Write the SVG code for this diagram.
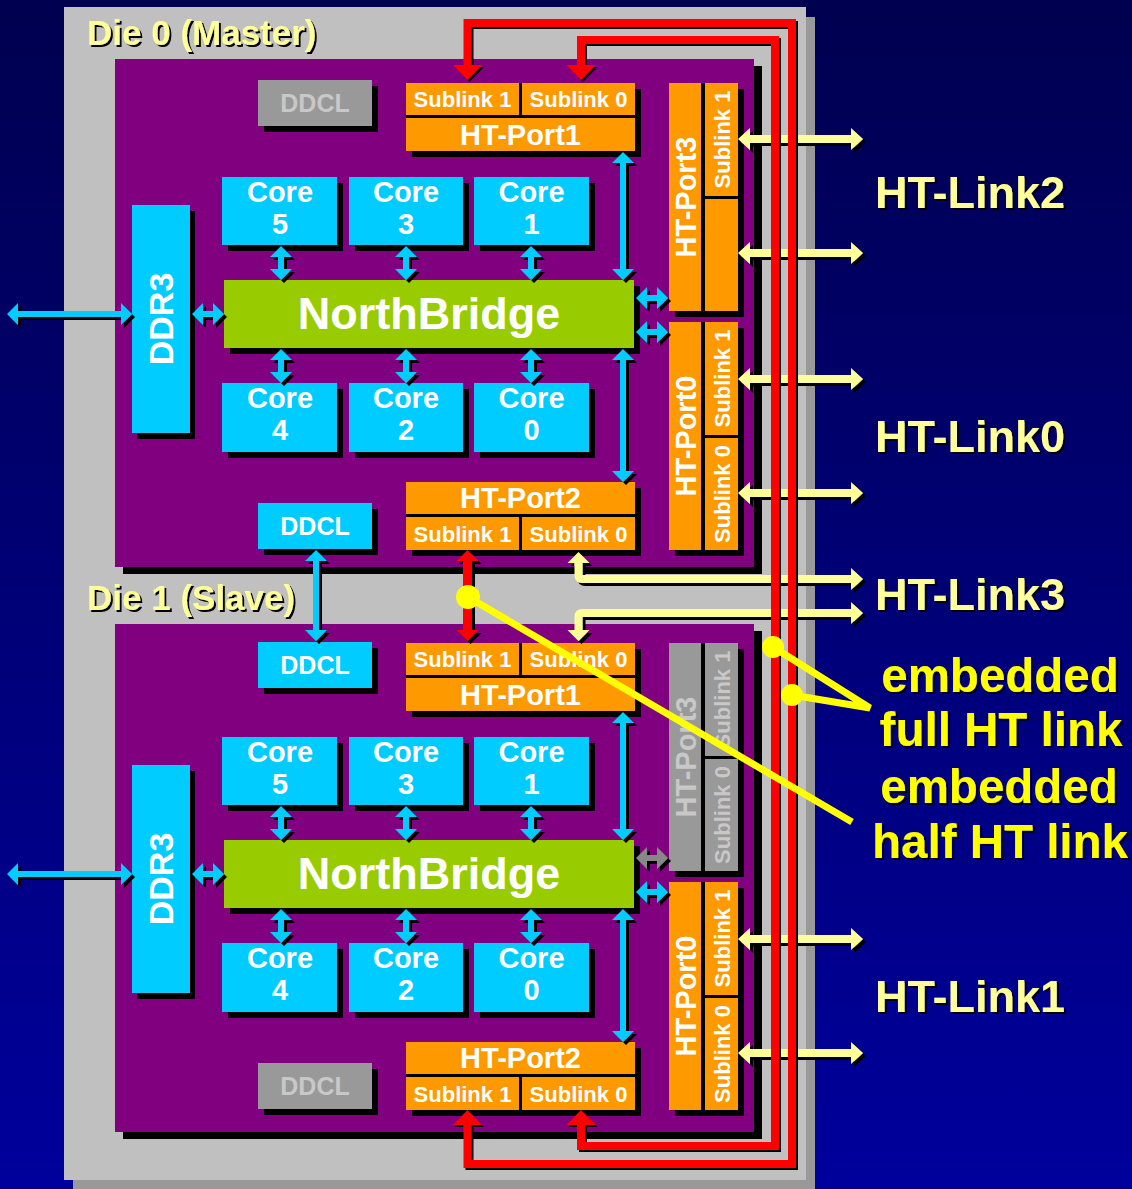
<svg xmlns="http://www.w3.org/2000/svg" width="1132" height="1189" viewBox="0 0 1132 1189">
<defs>
<linearGradient id="bg" x1="0" y1="0" x2="0" y2="1"><stop offset="0" stop-color="#000050"/><stop offset="1" stop-color="#00009c"/></linearGradient>
<filter id="s3" filterUnits="userSpaceOnUse" x="0" y="0" width="1132" height="1189"><feOffset in="SourceAlpha" dx="3" dy="3" result="o"/><feMerge><feMergeNode in="o"/><feMergeNode in="SourceGraphic"/></feMerge></filter>
<filter id="s2" filterUnits="userSpaceOnUse" x="0" y="0" width="1132" height="1189"><feOffset in="SourceAlpha" dx="2" dy="2" result="o"/><feMerge><feMergeNode in="o"/><feMergeNode in="SourceGraphic"/></feMerge></filter>
</defs>
<style>
.tx{font-family:"Liberation Sans",Arial,Helvetica,sans-serif;font-weight:bold;text-anchor:middle}
.w{fill:#fff}
.lg{fill:#c8c8c8}
.sl{font-size:22px}
.pt{font-size:29px}
.co{font-size:29px}
.dd{font-size:25px}
.nb{font-size:45px}
.dr{font-size:34px}
.ttl{font-family:"Liberation Sans",Arial,Helvetica,sans-serif;font-weight:bold;font-size:35px;fill:#ffff99}
.lnk{font-family:"Liberation Sans",Arial,Helvetica,sans-serif;font-weight:bold;font-size:45px;fill:#ffff99}
.emb{font-family:"Liberation Sans",Arial,Helvetica,sans-serif;font-weight:bold;font-size:47.5px;fill:#ffff00;text-anchor:middle}
.cy{fill:#00ccff}
.or{fill:#ff9900}
.gr{fill:#999999}
.bk{fill:#000}
.pu{fill:#800080}
.gn{fill:#99cc00}
.ye{fill:#ffff99}
.red{fill:none;stroke:#ff0000;stroke-width:8}
.rf{fill:#ff0000}
.co-ln{fill:none;stroke:#ffff00;stroke-width:7}
</style>
<rect x="0" y="0" width="1132" height="1189" fill="url(#bg)"/>
<g id="package">
<rect x="73" y="17" width="742" height="1172" fill="#999999"/>
<rect x="64" y="7" width="742" height="1173" fill="#c0c0c0"/>
</g>

<g id="die0">
<rect x="123" y="66" width="639" height="508" class="bk"/>
<rect x="115" y="59" width="639" height="508" class="pu"/>
<text x="87" y="45" class="ttl" filter="url(#s2)">Die 0 (Master)</text>
</g>
<g id="die1">
<rect x="123" y="631" width="639" height="508" class="bk"/>
<rect x="115" y="624" width="639" height="508" class="pu"/>
<text x="87" y="610" class="ttl" filter="url(#s2)">Die 1 (Slave)</text>
</g>

<!-- Die 0 nodes -->
<g id="d0-ddcl-gray"><rect x="264" y="86" width="114" height="46" class="bk"/><rect x="258" y="80" width="114" height="46" class="gr"/><text x="315" y="112" class="tx dd lg">DDCL</text></g>
<g id="d0-ddr3"><rect x="137" y="211" width="58" height="228" class="bk"/><rect x="132" y="205" width="58" height="228" class="cy"/><text transform="translate(173,319) rotate(-90)" class="tx dr w">DDR3</text></g>
<g id="d0-core5"><rect x="228" y="183" width="115" height="68" class="bk"/><rect x="222" y="177" width="115" height="68" class="cy"/><text x="280" y="202" class="tx co w">Core</text><text x="280" y="234" class="tx co w">5</text></g>
<g id="d0-core3"><rect x="355" y="183" width="114" height="68" class="bk"/><rect x="349" y="177" width="114" height="68" class="cy"/><text x="406" y="202" class="tx co w">Core</text><text x="406" y="234" class="tx co w">3</text></g>
<g id="d0-core1"><rect x="480" y="183" width="115" height="68" class="bk"/><rect x="474" y="177" width="115" height="68" class="cy"/><text x="531.5" y="202" class="tx co w">Core</text><text x="531.5" y="234" class="tx co w">1</text></g>
<g id="d0-core4"><rect x="228" y="389" width="115" height="69" class="bk"/><rect x="222" y="383" width="115" height="69" class="cy"/><text x="280" y="408" class="tx co w">Core</text><text x="280" y="440" class="tx co w">4</text></g>
<g id="d0-core2"><rect x="355" y="389" width="114" height="69" class="bk"/><rect x="349" y="383" width="114" height="69" class="cy"/><text x="406" y="408" class="tx co w">Core</text><text x="406" y="440" class="tx co w">2</text></g>
<g id="d0-core0"><rect x="480" y="389" width="115" height="69" class="bk"/><rect x="474" y="383" width="115" height="69" class="cy"/><text x="531.5" y="408" class="tx co w">Core</text><text x="531.5" y="440" class="tx co w">0</text></g>
<g id="d0-nb"><rect x="230" y="286" width="410" height="68" class="bk"/><rect x="224" y="280" width="410" height="68" class="gn"/><text x="429" y="329" class="tx nb w">NorthBridge</text></g>
<g id="d0-htport1"><rect x="406" y="83" width="229" height="68" class="bk"/><rect x="412" y="89" width="229" height="68" class="bk"/>
<rect x="406" y="83" width="113" height="32" class="or"/><rect x="522" y="83" width="113" height="32" class="or"/><rect x="406" y="118" width="229" height="33" class="or"/>
<text x="462.5" y="107" class="tx sl w">Sublink 1</text><text x="578.5" y="107" class="tx sl w">Sublink 0</text><text x="520.5" y="145" class="tx pt w">HT-Port1</text></g>
<g id="d0-htport2"><rect x="406" y="482" width="229" height="68" class="bk"/><rect x="412" y="488" width="229" height="68" class="bk"/>
<rect x="406" y="482" width="229" height="32" class="or"/><rect x="406" y="517" width="113" height="33" class="or"/><rect x="522" y="517" width="113" height="33" class="or"/>
<text x="520.5" y="508" class="tx pt w">HT-Port2</text><text x="462.5" y="541.5" class="tx sl w">Sublink 1</text><text x="578.5" y="541.5" class="tx sl w">Sublink 0</text></g>
<g id="d0-htport3"><rect x="669" y="83" width="69" height="228" class="bk"/><rect x="675" y="89" width="69" height="228" class="bk"/>
<rect x="669" y="83" width="32" height="228" class="or"/><rect x="705" y="83" width="33" height="113" class="or"/><rect x="705" y="199" width="33" height="112" class="or"/>
<text transform="translate(695.5,197) rotate(-90)" class="tx pt w">HT-Port3</text><text transform="translate(729.5,139.5) rotate(-90)" class="tx sl w">Sublink 1</text></g>
<g id="d0-htport0"><rect x="669" y="322" width="69" height="228" class="bk"/><rect x="675" y="328" width="69" height="228" class="bk"/>
<rect x="669" y="322" width="32" height="228" class="or"/><rect x="705" y="322" width="33" height="113" class="or"/><rect x="705" y="438" width="33" height="112" class="or"/>
<text transform="translate(695.5,436) rotate(-90)" class="tx pt w">HT-Port0</text><text transform="translate(729.5,378.5) rotate(-90)" class="tx sl w">Sublink 1</text><text transform="translate(729.5,494) rotate(-90)" class="tx sl w">Sublink 0</text></g>
<g id="d0-ddcl"><rect x="264" y="509" width="114" height="46" class="bk"/><rect x="258" y="503" width="114" height="46" class="cy"/><text x="315" y="535" class="tx dd w">DDCL</text></g>

<!-- Die 1 nodes -->
<g id="d1-ddcl"><rect x="264" y="648" width="114" height="46" class="bk"/><rect x="258" y="642" width="114" height="46" class="cy"/><text x="315" y="674" class="tx dd w">DDCL</text></g>
<g id="d1-ddr3"><rect x="137" y="771" width="58" height="228" class="bk"/><rect x="132" y="765" width="58" height="228" class="cy"/><text transform="translate(173,879) rotate(-90)" class="tx dr w">DDR3</text></g>
<g id="d1-core5"><rect x="228" y="743" width="115" height="68" class="bk"/><rect x="222" y="737" width="115" height="68" class="cy"/><text x="280" y="762" class="tx co w">Core</text><text x="280" y="794" class="tx co w">5</text></g>
<g id="d1-core3"><rect x="355" y="743" width="114" height="68" class="bk"/><rect x="349" y="737" width="114" height="68" class="cy"/><text x="406" y="762" class="tx co w">Core</text><text x="406" y="794" class="tx co w">3</text></g>
<g id="d1-core1"><rect x="480" y="743" width="115" height="68" class="bk"/><rect x="474" y="737" width="115" height="68" class="cy"/><text x="531.5" y="762" class="tx co w">Core</text><text x="531.5" y="794" class="tx co w">1</text></g>
<g id="d1-core4"><rect x="228" y="949" width="115" height="69" class="bk"/><rect x="222" y="943" width="115" height="69" class="cy"/><text x="280" y="968" class="tx co w">Core</text><text x="280" y="1000" class="tx co w">4</text></g>
<g id="d1-core2"><rect x="355" y="949" width="114" height="69" class="bk"/><rect x="349" y="943" width="114" height="69" class="cy"/><text x="406" y="968" class="tx co w">Core</text><text x="406" y="1000" class="tx co w">2</text></g>
<g id="d1-core0"><rect x="480" y="949" width="115" height="69" class="bk"/><rect x="474" y="943" width="115" height="69" class="cy"/><text x="531.5" y="968" class="tx co w">Core</text><text x="531.5" y="1000" class="tx co w">0</text></g>
<g id="d1-nb"><rect x="230" y="846" width="410" height="68" class="bk"/><rect x="224" y="840" width="410" height="68" class="gn"/><text x="429" y="889" class="tx nb w">NorthBridge</text></g>
<g id="d1-htport1"><rect x="406" y="643" width="229" height="68" class="bk"/><rect x="412" y="649" width="229" height="68" class="bk"/>
<rect x="406" y="643" width="113" height="32" class="or"/><rect x="522" y="643" width="113" height="32" class="or"/><rect x="406" y="678" width="229" height="33" class="or"/>
<text x="462.5" y="667" class="tx sl w">Sublink 1</text><text x="578.5" y="667" class="tx sl w">Sublink 0</text><text x="520.5" y="705" class="tx pt w">HT-Port1</text></g>
<g id="d1-htport2"><rect x="406" y="1042" width="229" height="68" class="bk"/><rect x="412" y="1048" width="229" height="68" class="bk"/>
<rect x="406" y="1042" width="229" height="32" class="or"/><rect x="406" y="1077" width="113" height="33" class="or"/><rect x="522" y="1077" width="113" height="33" class="or"/>
<text x="520.5" y="1068" class="tx pt w">HT-Port2</text><text x="462.5" y="1101.5" class="tx sl w">Sublink 1</text><text x="578.5" y="1101.5" class="tx sl w">Sublink 0</text></g>
<g id="d1-htport3"><rect x="669" y="643" width="69" height="228" class="bk"/><rect x="675" y="649" width="69" height="228" class="bk"/>
<rect x="669" y="643" width="32" height="228" class="gr"/><rect x="705" y="643" width="33" height="113" class="gr"/><rect x="705" y="759" width="33" height="112" class="gr"/>
<text transform="translate(695.5,757) rotate(-90)" class="tx pt lg">HT-Port3</text><text transform="translate(729.5,699.5) rotate(-90)" class="tx sl lg">Sublink 1</text><text transform="translate(729.5,815) rotate(-90)" class="tx sl lg">Sublink 0</text></g>
<g id="d1-htport0"><rect x="669" y="882" width="69" height="228" class="bk"/><rect x="675" y="888" width="69" height="228" class="bk"/>
<rect x="669" y="882" width="32" height="228" class="or"/><rect x="705" y="882" width="33" height="113" class="or"/><rect x="705" y="998" width="33" height="112" class="or"/>
<text transform="translate(695.5,996) rotate(-90)" class="tx pt w">HT-Port0</text><text transform="translate(729.5,938.5) rotate(-90)" class="tx sl w">Sublink 1</text><text transform="translate(729.5,1054) rotate(-90)" class="tx sl w">Sublink 0</text></g>
<g id="d1-ddcl-gray"><rect x="264" y="1069" width="114" height="46" class="bk"/><rect x="258" y="1063" width="114" height="46" class="gr"/><text x="315" y="1095" class="tx dd lg">DDCL</text></g>

<g id="connectors">
<g class="cy" filter="url(#s3)">
<path d="M281,246 l11,11 h-8 V269 h8 l-11,11 l-11,-11 h8 V257 h-8z"/>
<path d="M406,246 l11,11 h-8 V269 h8 l-11,11 l-11,-11 h8 V257 h-8z"/>
<path d="M531,246 l11,11 h-8 V269 h8 l-11,11 l-11,-11 h8 V257 h-8z"/>
<path d="M281,349 l11,11 h-8 V372 h8 l-11,11 l-11,-11 h8 V360 h-8z"/>
<path d="M406,349 l11,11 h-8 V372 h8 l-11,11 l-11,-11 h8 V360 h-8z"/>
<path d="M531,349 l11,11 h-8 V372 h8 l-11,11 l-11,-11 h8 V360 h-8z"/>
<path d="M623,152 l11,11 h-8 V269 h8 l-11,11 l-11,-11 h8 V163 h-8z"/>
<path d="M623,349 l11,11 h-8 V471 h8 l-11,11 l-11,-11 h8 V360 h-8z"/>
<path d="M636,298 l11,-11 v8 H657 v-8 l11,11 l-11,11 v-8 H647 v8z"/>
<path d="M636,332 l11,-11 v8 H657 v-8 l11,11 l-11,11 v-8 H647 v8z"/>
<path d="M192,314 l11,-11 v8 H213 v-8 l11,11 l-11,11 v-8 H203 v8z"/>
<path d="M7,314 l11,-11 v8 H121 v-8 l11,11 l-11,11 v-8 H18 v8z"/>
<path d="M281,806 l11,11 h-8 V829 h8 l-11,11 l-11,-11 h8 V817 h-8z"/>
<path d="M406,806 l11,11 h-8 V829 h8 l-11,11 l-11,-11 h8 V817 h-8z"/>
<path d="M531,806 l11,11 h-8 V829 h8 l-11,11 l-11,-11 h8 V817 h-8z"/>
<path d="M281,909 l11,11 h-8 V932 h8 l-11,11 l-11,-11 h8 V920 h-8z"/>
<path d="M406,909 l11,11 h-8 V932 h8 l-11,11 l-11,-11 h8 V920 h-8z"/>
<path d="M531,909 l11,11 h-8 V932 h8 l-11,11 l-11,-11 h8 V920 h-8z"/>
<path d="M623,712 l11,11 h-8 V829 h8 l-11,11 l-11,-11 h8 V723 h-8z"/>
<path d="M623,909 l11,11 h-8 V1031 h8 l-11,11 l-11,-11 h8 V920 h-8z"/>
<path d="M636,892 l11,-11 v8 H657 v-8 l11,11 l-11,11 v-8 H647 v8z"/>
<path d="M192,874 l11,-11 v8 H213 v-8 l11,11 l-11,11 v-8 H203 v8z"/>
<path d="M7,874 l11,-11 v8 H121 v-8 l11,11 l-11,11 v-8 H18 v8z"/>
<path d="M316,550 l11,11 h-8 V630 h8 l-11,11 l-11,-11 h8 V561 h-8z"/>
</g>
<path d="M636,858 l11,-11 v8 H657 v-8 l11,11 l-11,11 v-8 H647 v8z" fill="#888888" filter="url(#s3)"/>
<g class="ye" filter="url(#s3)">
<path d="M738,139 l12,-11 v7 H851 v-7 l12,11 l-12,11 v-7 H750 v7z"/>
<path d="M738,253 l12,-11 v7 H851 v-7 l12,11 l-12,11 v-7 H750 v7z"/>
<path d="M738,379 l12,-11 v7 H851 v-7 l12,11 l-12,11 v-7 H750 v7z"/>
<path d="M738,493 l12,-11 v7 H851 v-7 l12,11 l-12,11 v-7 H750 v7z"/>
<path d="M738,939 l12,-11 v7 H851 v-7 l12,11 l-12,11 v-7 H750 v7z"/>
<path d="M738,1053 l12,-11 v7 H851 v-7 l12,11 l-12,11 v-7 H750 v7z"/>
<path d="M578.5,552 l11,11 h-7 V575 H851 v-7 l12,11 l-12,11 v-7 H582.5 Q574.5,583 574.5,575 V563 h-7 z"/>
<path d="M863,613 l-12,11 v-7 H582.5 V630 h7 l-11,11 l-11,-11 h7 V617 Q574.5,609 582.5,609 H851 v-7 z"/>
</g>
<g filter="url(#s2)">
<path class="red" d="M467.5,66 V23 H792 V1164 H467.5 V1124"/>
<path class="red" d="M581,66 V40 H775 V1146 H581 V1124"/>
<polygon class="rf" points="453,65 482,65 467.5,80"/>
<polygon class="rf" points="566.5,65 595.5,65 581,80"/>
<polygon class="rf" points="453,1125 482,1125 467.5,1110"/>
<polygon class="rf" points="566.5,1125 595.5,1125 581,1110"/>
</g>
<path class="rf" filter="url(#s3)" d="M467.5,550 l11,11 h-6.5 V630 h6.5 l-11,11 l-11,-11 h6.5 V561 h-6.5z"/>
<g id="callouts">
<polyline class="co-ln" points="773,647 870,708 792,695" stroke-linejoin="miter"/>
<circle cx="773" cy="647" r="11" fill="#ffff00"/>
<circle cx="792" cy="695" r="11" fill="#ffff00"/>
<line class="co-ln" x1="468" y1="597" x2="852" y2="822" stroke-width="8"/>
<circle cx="468" cy="597" r="12" fill="#ffff00"/>
</g>
</g>

<g id="labels">
<text x="875" y="208" class="lnk" filter="url(#s2)">HT-Link2</text>
<text x="875" y="452" class="lnk" filter="url(#s2)">HT-Link0</text>
<text x="875" y="610" class="lnk" filter="url(#s2)">HT-Link3</text>
<text x="875" y="1012" class="lnk" filter="url(#s2)">HT-Link1</text>
<text x="1000" y="692" class="emb" filter="url(#s2)">embedded</text>
<text x="1001" y="746" class="emb" filter="url(#s2)">full HT link</text>
<text x="999" y="803" class="emb" filter="url(#s2)">embedded</text>
<text x="1000" y="858" class="emb" filter="url(#s2)">half HT link</text>
</g>
</svg>
